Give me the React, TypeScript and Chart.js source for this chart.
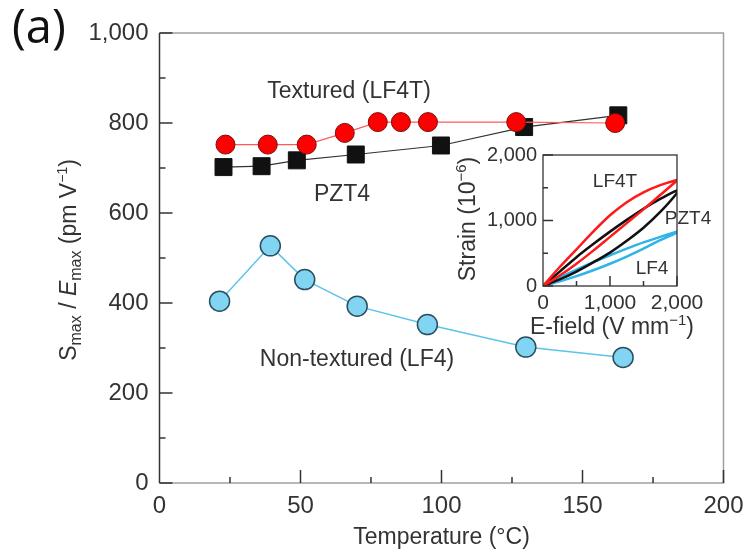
import React, { useEffect, useRef } from "react";
import { Chart, registerables } from "chart.js";
Chart.register(...registerables);

// ---------- Main chart data ----------
const temperatureLF4T = [23.4, 38.4, 52.2, 65.7, 77.4, 85.6, 95.2, 126.5, 161.6];
const valuesLF4T = [752, 752, 752, 778, 802, 802, 802, 802, 800];
const temperaturePZT4 = [22.7, 36.2, 48.7, 69.6, 99.8, 129.3, 162.7];
const valuesPZT4 = [702, 704, 717, 730, 750, 791, 817];
const temperatureLF4 = [21.3, 39.3, 51.5, 70.1, 95.0, 129.9, 164.4];
const valuesLF4 = [404, 527, 452, 393, 352, 302, 279];

// ---------- Inset data (hysteresis loops) ----------
const eField = [0, 250, 500, 750, 1000, 1250, 1500, 1750, 2000];
const strainLF4TUp = [0, 290, 560, 830, 1080, 1280, 1430, 1540, 1620];
const strainLF4TDown = [0, 160, 340, 540, 750, 960, 1170, 1390, 1610];
const strainPZT4Up = [0, 220, 440, 640, 830, 1010, 1180, 1330, 1460];
const strainPZT4Down = [0, 100, 220, 360, 510, 690, 890, 1130, 1420];
const strainLF4Up = [0, 130, 250, 365, 470, 570, 665, 750, 830];
const strainLF4Down = [0, 70, 150, 240, 340, 450, 570, 700, 815];

const FONT = "'Liberation Sans', Arial, Helvetica, sans-serif";
const TEXT = "#333333";

function pts(xs: number[], ys: number[]) {
  return xs.map((x, i) => ({ x, y: ys[i] }));
}
function loop(xs: number[], up: number[], down: number[]) {
  const a = pts(xs, up);
  const b = pts(xs, down).reverse();
  return a.concat(b);
}

type Part = { t: string; size: number; italic?: boolean; dy?: number };
function drawRich(ctx: CanvasRenderingContext2D, parts: Part[], cx: number, cy: number, rot: number, base: number) {
  ctx.save();
  ctx.translate(cx, cy);
  ctx.rotate(rot);
  ctx.fillStyle = TEXT;
  ctx.textBaseline = "alphabetic";
  ctx.textAlign = "left";
  const fontOf = (p: Part) => `${p.italic ? "italic " : ""}${p.size}px ${FONT}`;
  let total = 0;
  const widths = parts.map((p) => {
    ctx.font = fontOf(p);
    const w = ctx.measureText(p.t).width;
    total += w;
    return w;
  });
  let x = -total / 2;
  parts.forEach((p, i) => {
    ctx.font = fontOf(p);
    ctx.fillText(p.t, x, base + (p.dy || 0));
    x += widths[i];
  });
  ctx.restore();
}

function drawLabel(ctx: CanvasRenderingContext2D, t: string, x: number, y: number, size: number) {
  ctx.save();
  ctx.fillStyle = TEXT;
  ctx.font = `${size}px ${FONT}`;
  ctx.textAlign = "center";
  ctx.textBaseline = "middle";
  ctx.fillText(t, x, y);
  ctx.restore();
}

function drawTicks(chart: any, xStep: number, xMajor: number, yStep: number, yMajor: number, lenMajor: number, lenMinor: number) {
  const ctx = chart.ctx as CanvasRenderingContext2D;
  const { left, bottom } = chart.chartArea;
  const xs = chart.scales.x;
  const ys = chart.scales.y;
  ctx.save();
  ctx.strokeStyle = "#333";
  ctx.lineWidth = 1.5;
  ctx.beginPath();
  for (let v = xs.min + xStep; v <= xs.max + 1e-6; v += xStep) {
    const px = xs.getPixelForValue(v);
    const L = Math.abs(v % xMajor) < 1e-6 ? lenMajor : lenMinor;
    ctx.moveTo(px, bottom);
    ctx.lineTo(px, bottom - L);
  }
  for (let v = ys.min; v <= ys.max + 1e-6; v += yStep) {
    const py = ys.getPixelForValue(v);
    const L = Math.abs(v % yMajor) < 1e-6 ? lenMajor : lenMinor;
    ctx.moveTo(left, py);
    ctx.lineTo(left + L, py);
  }
  ctx.stroke();
  ctx.restore();
}

const mainPlugin = {
  id: "mainDecor",
  beforeDraw(chart: any) {
    const ctx = chart.ctx as CanvasRenderingContext2D;
    ctx.save();
    ctx.fillStyle = "#ffffff";
    ctx.fillRect(0, 0, chart.width, chart.height);
    ctx.restore();
  },
  afterDraw(chart: any) {
    const ctx = chart.ctx as CanvasRenderingContext2D;
    const { left, right, top, bottom } = chart.chartArea;
    ctx.save();
    ctx.lineWidth = 1.5;
    ctx.strokeStyle = "#a0a0a0";
    ctx.beginPath();
    ctx.moveTo(left, bottom);
    ctx.lineTo(right, bottom);
    ctx.lineTo(right, top);
    ctx.lineTo(left, top);
    ctx.stroke();
    ctx.strokeStyle = "#333";
    ctx.beginPath();
    ctx.moveTo(left, top);
    ctx.lineTo(left, bottom);
    ctx.stroke();
    ctx.restore();
    drawTicks(chart, 25, 50, 100, 200, 13, 6);

    // panel label
    ctx.save();
    ctx.fillStyle = "#111";
    ctx.font = `47px 'Open Sans', 'Noto Sans', sans-serif`;
    ctx.textAlign = "left";
    ctx.textBaseline = "middle";
    ctx.fillText("(a)", 12, 30);
    ctx.restore();

    // axis titles
    drawRich(
      ctx,
      [
        { t: "S", size: 23 },
        { t: "max", size: 16, dy: 5 },
        { t: " / ", size: 23 },
        { t: "E", size: 23, italic: true },
        { t: "max", size: 16, dy: 5 },
        { t: " (pm V", size: 23 },
        { t: "\u22121", size: 14, dy: -9 },
        { t: ")", size: 23 },
      ],
      68,
      260,
      -Math.PI / 2,
      8
    );
    drawRich(ctx, [{ t: "Temperature (\u00b0C)", size: 23 }], (left + right) / 2, 536, 0, 8);

    // series annotations
    drawLabel(ctx, "Textured (LF4T)", 349, 92, 23);
    drawLabel(ctx, "PZT4", 342, 195, 23);
    drawLabel(ctx, "Non-textured (LF4)", 357, 360, 23);
  },
};

const insetPlugin = {
  id: "insetDecor",
  afterDraw(chart: any) {
    const ctx = chart.ctx as CanvasRenderingContext2D;
    const { left, right, top, bottom } = chart.chartArea;
    ctx.save();
    ctx.lineWidth = 1.3;
    ctx.strokeStyle = "#333";
    ctx.strokeRect(left, top, right - left, bottom - top);
    ctx.restore();
    drawTicks(chart, 500, 1000, 500, 1000, 10, 5);
    drawRich(
      ctx,
      [
        { t: "Strain (10", size: 23 },
        { t: "\u22126", size: 15, dy: -9 },
        { t: ")", size: 23 },
      ],
      467,
      219,
      -Math.PI / 2,
      8
    );
    drawRich(
      ctx,
      [
        { t: "E-field (V mm", size: 23 },
        { t: "\u22121", size: 15, dy: -9 },
        { t: ")", size: 23 },
      ],
      612,
      326,
      0,
      8
    );
    drawLabel(ctx, "LF4T", 615, 182, 19);
    drawLabel(ctx, "PZT4", 688, 219, 19);
    drawLabel(ctx, "LF4", 652, 269, 19);
  },
};

export default function App() {
  const mainRef = useRef<HTMLCanvasElement | null>(null);
  const insetRef = useRef<HTMLCanvasElement | null>(null);

  useEffect(() => {
    if (!mainRef.current || !insetRef.current) return;

    const mainChart = new Chart(mainRef.current, {
      type: "scatter",
      data: {
        datasets: [
          {
            label: "Textured (LF4T)",
            data: pts(temperatureLF4T, valuesLF4T),
            showLine: true,
            borderColor: "#ff5a5a",
            borderWidth: 1.2,
            pointBackgroundColor: "#ff0000",
            pointBorderColor: "#7a1010",
            pointBorderWidth: 1,
            pointRadius: 9.5,
            pointStyle: "circle",
            order: 1,
          },
          {
            label: "PZT4",
            data: pts(temperaturePZT4, valuesPZT4),
            showLine: true,
            borderColor: "#333333",
            borderWidth: 1.2,
            pointBackgroundColor: "#111111",
            pointBorderColor: "#111111",
            pointBorderWidth: 1,
            pointRadius: 12,
            pointStyle: "rect",
            order: 2,
          },
          {
            label: "Non-textured (LF4)",
            data: pts(temperatureLF4, valuesLF4),
            showLine: true,
            borderColor: "#5cc3ea",
            borderWidth: 1.5,
            pointBackgroundColor: "#82d5f2",
            pointBorderColor: "#2b4f60",
            pointBorderWidth: 1.5,
            pointRadius: 10,
            pointStyle: "circle",
            order: 3,
          },
        ],
      },
      options: {
        animation: false,
        responsive: false,
        events: [],
        layout: { padding: { left: 0, top: 33, right: 744 - 723.5, bottom: 0 } },
        plugins: { legend: { display: false }, tooltip: { enabled: false } },
        scales: {
          x: {
            type: "linear",
            min: 0,
            max: 200,
            border: { display: false },
            grid: { display: false, drawTicks: false },
            ticks: { stepSize: 50, padding: 9, color: TEXT, font: { family: FONT, size: 24 } },
            afterFit: (s: any) => {
              s.height = 70;
              s.paddingLeft = 0;
              s.paddingRight = 0;
            },
          },
          y: {
            type: "linear",
            min: 0,
            max: 1000,
            border: { display: false },
            grid: { display: false, drawTicks: false },
            ticks: { stepSize: 200, padding: 11, color: TEXT, font: { family: FONT, size: 24 } },
            afterFit: (s: any) => {
              s.width = 159.5;
              s.paddingTop = 0;
              s.paddingBottom = 0;
            },
          },
        },
      } as any,
      plugins: [mainPlugin],
    });

    const insetChart = new Chart(insetRef.current, {
      type: "scatter",
      data: {
        datasets: [
          {
            label: "LF4T",
            data: loop(eField, strainLF4TUp, strainLF4TDown),
            showLine: true,
            borderColor: "#ff1a1a",
            borderWidth: 2.5,
            pointRadius: 0,
            tension: 0.3,
            order: 1,
          },
          {
            label: "PZT4",
            data: loop(eField, strainPZT4Up, strainPZT4Down),
            showLine: true,
            borderColor: "#111111",
            borderWidth: 2.5,
            pointRadius: 0,
            tension: 0.3,
            order: 2,
          },
          {
            label: "LF4",
            data: loop(eField, strainLF4Up, strainLF4Down),
            showLine: true,
            borderColor: "#2fb4e6",
            borderWidth: 2.5,
            pointRadius: 0,
            tension: 0.3,
            order: 3,
          },
        ],
      },
      options: {
        animation: false,
        responsive: false,
        events: [],
        layout: { padding: { left: 543 - 60, top: 155, right: 744 - 677, bottom: 553 - 286 - 60 } },
        plugins: { legend: { display: false }, tooltip: { enabled: false } },
        scales: {
          x: {
            type: "linear",
            min: 0,
            max: 2000,
            border: { display: false },
            grid: { display: false, drawTicks: false },
            ticks: { stepSize: 1000, padding: 5, color: TEXT, font: { family: FONT, size: 21 } },
            afterFit: (s: any) => {
              s.height = 60;
              s.paddingLeft = 0;
              s.paddingRight = 0;
            },
          },
          y: {
            type: "linear",
            min: 0,
            max: 2000,
            border: { display: false },
            grid: { display: false, drawTicks: false },
            ticks: { stepSize: 1000, padding: 6, color: TEXT, font: { family: FONT, size: 20 } },
            afterFit: (s: any) => {
              s.width = 60;
              s.paddingTop = 0;
              s.paddingBottom = 0;
            },
          },
        },
      } as any,
      plugins: [insetPlugin],
    });

    return () => {
      mainChart.destroy();
      insetChart.destroy();
    };
  }, []);

  return (
    <div style={{ position: "absolute", left: 0, top: 0, width: 744, height: 553, background: "#fff" }}>
      <canvas ref={mainRef} width={744} height={553} style={{ position: "absolute", left: 0, top: 0 }} />
      <canvas ref={insetRef} width={744} height={553} style={{ position: "absolute", left: 0, top: 0, pointerEvents: "none" }} />
    </div>
  );
}
